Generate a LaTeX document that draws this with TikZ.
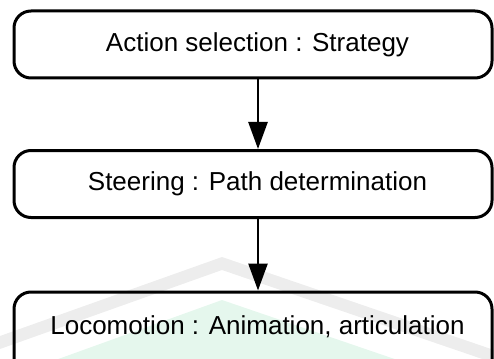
\documentclass[tikz,border=0pt]{standalone}
\usepackage{fontspec}
\setmainfont{Liberation Sans}
\usetikzlibrary{arrows.meta}
\begin{document}
\begin{tikzpicture}[x=1pt,y=-1pt,
  box/.style={draw=black, line width=3pt, rounded corners=17pt, minimum width=478pt, minimum height=67pt, inner sep=0pt, font=\fontsize{26}{30}\selectfont},
  lbl/.style={inner sep=0pt, font=\fontsize{26}{30}\selectfont},
  flow/.style={line width=2.6pt, -{Triangle[width=19pt,length=27pt]}}]
\useasboundingbox (0,0) rectangle (494,358);
% faint watermark
\fill[black!7] (222,257) -- (494,350) -- (494,363) -- (222,270) -- (0,349) -- (0,336) -- cycle;
\fill[green!40!teal!10] (222,300) -- (494,393) -- (0,380) -- cycle;
\node[box] (b1) at (253,44.5) {\hspace*{9pt}Action selection : Strategy};
\node[box] (b2) at (253,184) {\hspace*{9pt}Steering : Path determination};
\node[box, minimum height=92pt, anchor=north] (b3) at (253,290.5) {};
\node[lbl] (t3) at (257.5,327) {Locomotion : Animation, articulation};
\draw[flow] ([xshift=5pt]b1.south) -- ([xshift=5pt]b2.north);
\draw[flow] ([xshift=5pt]b2.south) -- ([xshift=5pt]b3.north);
\end{tikzpicture}
\end{document}
